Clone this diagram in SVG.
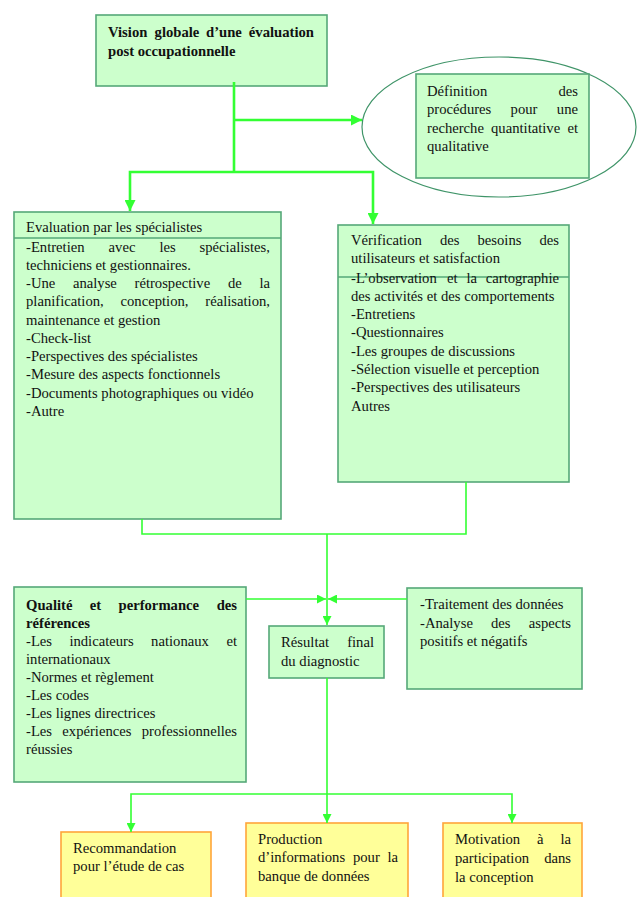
<svg xmlns="http://www.w3.org/2000/svg" width="637" height="897" viewBox="0 0 637 897">
<style>
text{font-family:"Liberation Serif","Times New Roman",serif;font-size:14.67px;fill:#111}
.b{font-weight:bold}
.e{text-anchor:end}
.g{fill:#CCFFCC;stroke:#55A878;stroke-width:1.6}
.y{fill:#FFFF99;stroke:#FFA53A;stroke-width:1.6}
.sep{stroke:#55A878;stroke-width:1.4;fill:none}
.c1{fill:none;stroke:#33FF33;stroke-width:2.6}
.c2{fill:none;stroke:#33FF33;stroke-width:1.6}
</style>
<defs>
<marker id="a1" viewBox="0 0 10 10" refX="10" refY="5" markerUnits="userSpaceOnUse" markerWidth="11" markerHeight="11" orient="auto"><path d="M0,0 L10,5 L0,10 z" fill="#33FF33"/></marker>
<marker id="a2" viewBox="0 0 10 10" refX="10" refY="5" markerUnits="userSpaceOnUse" markerWidth="9" markerHeight="9" orient="auto"><path d="M0,0 L10,5 L0,10 z" fill="#33FF33"/></marker>
</defs>

<g id="n-vision">
<rect class="g" x="96" y="15" width="231" height="71"/>
<text class="b" y="37"><tspan x="108">Vision</tspan><tspan x="154.6">globale</tspan><tspan x="206">d’une</tspan></text>
<text class="b e" x="314" y="37">évaluation</text>
<text class="b" x="108" y="56">post occupationnelle</text>
</g>

<g id="n-definition">
<ellipse cx="499" cy="127" rx="137" ry="70" fill="none" stroke="#3F9468" stroke-width="1.2"/>
<rect class="g" x="416" y="74" width="173" height="104"/>
<text x="427" y="95.5">Définition</text><text class="e" x="578" y="95.5">des</text>
<text y="114"><tspan x="427">procédures</tspan><tspan x="510.6">pour</tspan></text><text class="e" x="578" y="114">une</text>
<text y="132.5"><tspan x="427">recherche</tspan><tspan x="491">quantitative</tspan></text><text class="e" x="578" y="132.5">et</text>
<text x="427" y="151">qualitative</text>
</g>

<g id="n-specialistes">
<rect class="g" x="14" y="212" width="267" height="307"/>
<line class="sep" x1="14" y1="238" x2="281" y2="238"/>
<text x="26" y="232">Evaluation par les spécialistes</text>
<text y="251.5"><tspan x="26">-Entretien</tspan><tspan x="108.6">avec</tspan><tspan x="159.4">les</tspan></text><text class="e" x="270" y="251.5">spécialistes,</text>
<text x="26" y="269.75">techniciens et gestionnaires.</text>
<text y="288"><tspan x="26">-Une</tspan><tspan x="72.9">analyse</tspan><tspan x="134.5">rétrospective</tspan><tspan x="227.9">de</tspan></text><text class="e" x="270" y="288">la</text>
<text y="306.25"><tspan x="26">planification,</tspan><tspan x="120.5">conception,</tspan></text><text class="e" x="270" y="306.25">réalisation,</text>
<text x="26" y="324.5">maintenance et gestion</text>
<text x="26" y="342.75">-Check-list</text>
<text x="26" y="361">-Perspectives des spécialistes</text>
<text x="26" y="379.25">-Mesure des aspects fonctionnels</text>
<text x="26" y="397.5">-Documents photographiques ou vidéo</text>
<text x="26" y="415.75">-Autre</text>
</g>

<g id="n-verification">
<rect class="g" x="338" y="225" width="231" height="257"/>
<line class="sep" x1="338" y1="277" x2="569" y2="277"/>
<text y="245"><tspan x="351">Vérification</tspan><tspan x="439.9">des</tspan><tspan x="477.5">besoins</tspan></text><text class="e" x="559" y="245">des</text>
<text x="351" y="263.3">utilisateurs et satisfaction</text>
<text y="282.5"><tspan x="351">-L’observation</tspan><tspan x="447">et</tspan><tspan x="466.4">la</tspan></text><text class="e" x="559" y="282.5">cartographie</text>
<text x="351" y="300.8">des activités et des comportements</text>
<text x="351" y="319">-Entretiens</text>
<text x="351" y="337.3">-Questionnaires</text>
<text x="351" y="355.6">-Les groupes de discussions</text>
<text x="351" y="373.9">-Sélection visuelle et perception</text>
<text x="351" y="392.2">-Perspectives des utilisateurs</text>
<text x="351" y="410.5">Autres</text>
</g>

<g id="n-qualite">
<rect class="g" x="14" y="587" width="232" height="195"/>
<text class="b" y="609.5"><tspan x="26">Qualité</tspan><tspan x="89.8">et</tspan><tspan x="118.5">performance</tspan></text><text class="b e" x="237" y="609.5">des</text>
<text class="b" x="26" y="627.6">références</text>
<text y="645.7"><tspan x="26">-Les</tspan><tspan x="69.4">indicateurs</tspan><tspan x="151.1">nationaux</tspan></text><text class="e" x="237" y="645.7">et</text>
<text x="26" y="663.8">internationaux</text>
<text x="26" y="681.9">-Normes et règlement</text>
<text x="26" y="700">-Les codes</text>
<text x="26" y="718.1">-Les lignes directrices</text>
<text y="736.2"><tspan x="26">-Les</tspan><tspan x="62.3">expériences</tspan></text><text class="e" x="237" y="736.2">professionnelles</text>
<text x="26" y="754.3">réussies</text>
</g>

<g id="n-resultat">
<rect class="g" x="269" y="626" width="115" height="52"/>
<text x="281" y="647">Résultat</text><text class="e" x="374" y="647">final</text>
<text x="281" y="666">du diagnostic</text>
</g>

<g id="n-traitement">
<rect class="g" x="407" y="588" width="175" height="101"/>
<text x="420" y="609">-Traitement des données</text>
<text y="627.5"><tspan x="420">-Analyse</tspan><tspan x="491">des</tspan></text><text class="e" x="571" y="627.5">aspects</text>
<text x="420" y="646">positifs et négatifs</text>
</g>

<g id="n-recommandation">
<rect class="y" x="61" y="832" width="150" height="70"/>
<text x="73" y="853">Recommandation</text>
<text x="73" y="871.3">pour l’étude de cas</text>
</g>

<g id="n-production">
<rect class="y" x="246" y="823" width="162" height="79"/>
<text x="258" y="844">Production</text>
<text y="862.3"><tspan x="258">d’informations</tspan><tspan x="352.9">pour</tspan></text><text class="e" x="398" y="862.3">la</text>
<text x="258" y="880.6">banque de données</text>
</g>

<g id="n-motivation">
<rect class="y" x="443" y="823" width="139" height="79"/>
<text y="844"><tspan x="455">Motivation</tspan><tspan x="537">à</tspan></text><text class="e" x="571" y="844">la</text>
<text x="455" y="862.8">participation</text><text class="e" x="571" y="862.8">dans</text>
<text x="455" y="881.6">la conception</text>
</g>

<g id="connectors">
<path class="c1" d="M234,82 V172"/>
<path class="c1" d="M234,120 H362" marker-end="url(#a1)"/>
<path class="c1" d="M234,172 H130 V211" marker-end="url(#a1)"/>
<path class="c1" d="M234,172 H373 V224" marker-end="url(#a1)"/>
<path class="c2" d="M142,519 V534 H466 V482"/>
<path class="c2" d="M327,534 V625" marker-end="url(#a2)"/>
<path class="c2" d="M246,599 H326" marker-end="url(#a2)"/>
<path class="c2" d="M407,599 H328" marker-end="url(#a2)"/>
<path class="c2" d="M327,678 V794"/>
<path class="c2" d="M327,794 V823" marker-end="url(#a2)"/>
<path class="c2" d="M327,794 H131 V832" marker-end="url(#a2)"/>
<path class="c2" d="M327,794 H512 V823" marker-end="url(#a2)"/>
</g>
</svg>
